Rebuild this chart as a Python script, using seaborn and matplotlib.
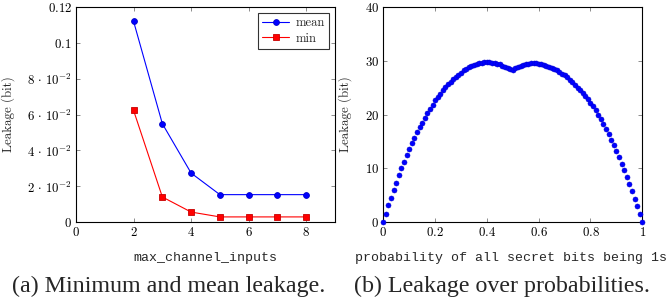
import pandas as pd
import matplotlib
matplotlib.use("Agg")
import matplotlib.pyplot as plt
import seaborn as sns

sns.set_theme(style="ticks")
plt.rcParams["mathtext.fontset"] = "cm"
plt.rcParams["font.family"] = ["cmr10", "DejaVu Serif"]
plt.rcParams["axes.formatter.use_mathtext"] = True

# (a) leakage vs max_channel_inputs
channel_inputs = [2, 3, 4, 5, 6, 7, 8]
mean_leakage = [0.1119, 0.0549, 0.0274, 0.0154, 0.0154, 0.0154, 0.0154]
min_leakage = [0.0623, 0.0141, 0.0057, 0.0030, 0.0030, 0.0030, 0.0030]

# (b) leakage over probabilities
prob = [0.00, 0.01, 0.02, 0.03, 0.04, 0.05, 0.06, 0.07, 0.08, 0.09,
        0.10, 0.11, 0.12, 0.13, 0.14, 0.15, 0.16, 0.17, 0.18, 0.19,
        0.20, 0.21, 0.22, 0.23, 0.24, 0.25, 0.26, 0.27, 0.28, 0.29,
        0.30, 0.31, 0.32, 0.33, 0.34, 0.35, 0.36, 0.37, 0.38, 0.39,
        0.40, 0.41, 0.42, 0.43, 0.44, 0.45, 0.46, 0.47, 0.48, 0.49,
        0.50, 0.51, 0.52, 0.53, 0.54, 0.55, 0.56, 0.57, 0.58, 0.59,
        0.60, 0.61, 0.62, 0.63, 0.64, 0.65, 0.66, 0.67, 0.68, 0.69,
        0.70, 0.71, 0.72, 0.73, 0.74, 0.75, 0.76, 0.77, 0.78, 0.79,
        0.80, 0.81, 0.82, 0.83, 0.84, 0.85, 0.86, 0.87, 0.88, 0.89,
        0.90, 0.91, 0.92, 0.93, 0.94, 0.95, 0.96, 0.97, 0.98, 0.99, 1.00]
leakage = [0.0, 1.6, 3.2, 4.6, 6.0, 7.3, 8.7, 10.0, 11.2, 12.4,
           13.6, 14.7, 15.7, 16.7, 17.6, 18.5, 19.4, 20.2, 21.0, 21.8,
           22.7, 23.3, 23.9, 24.5, 25.1, 25.6, 26.1, 26.6, 27.0, 27.4,
           27.8, 28.2, 28.5, 28.8, 29.0, 29.2, 29.4, 29.5, 29.6, 29.7,
           29.7, 29.7, 29.6, 29.5, 29.4, 29.3, 29.1, 28.9, 28.7, 28.5,
           28.3, 28.6, 28.8, 29.0, 29.2, 29.3, 29.4, 29.5, 29.5, 29.5,
           29.4, 29.3, 29.2, 29.1, 28.9, 28.7, 28.5, 28.2, 27.9, 27.6,
           27.3, 26.9, 26.5, 26.0, 25.5, 25.0, 24.5, 24.0, 23.4, 22.8,
           22.2, 21.5, 20.8, 20.0, 19.2, 18.3, 17.3, 16.4, 15.3, 14.3,
           13.2, 12.2, 10.9, 9.7, 8.4, 7.2, 5.8, 4.4, 3.0, 1.6, 0.0]

a_xticks = [0, 2, 4, 6, 8]
a_yticks = [0, 0.02, 0.04, 0.06, 0.08, 0.1, 0.12]
a_ylabels = ["$0$", r"$2\,\cdot\,10^{-2}$", r"$4\,\cdot\,10^{-2}$",
             r"$6\,\cdot\,10^{-2}$", r"$8\,\cdot\,10^{-2}$", "$0.1$", "$0.12$"]
b_xticks = [0, 0.2, 0.4, 0.6, 0.8, 1]
b_xlabels = ["$0$", "$0.2$", "$0.4$", "$0.6$", "$0.8$", "$1$"]
b_yticks = [0, 10, 20, 30, 40]
b_ylabels = ["$0$", "$10$", "$20$", "$30$", "$40$"]

df_a = pd.DataFrame({"x": channel_inputs, "mean": mean_leakage, "min": min_leakage})
df_b = pd.DataFrame({"p": prob, "leak": leakage})

fig = plt.figure(figsize=(6.68, 3.07), dpi=100)
ax1 = fig.add_axes([0.1138, 0.2759, 0.3877, 0.702])
ax2 = fig.add_axes([0.5738, 0.2759, 0.3877, 0.702])

sns.lineplot(data=df_a, x="x", y="mean", ax=ax1, color="blue", lw=0.8,
             marker="o", markersize=4.2, markeredgecolor="#0000c8",
             markeredgewidth=0.6, label="mean")
sns.lineplot(data=df_a, x="x", y="min", ax=ax1, color="red", lw=0.8,
             marker="s", markersize=4.0, markeredgecolor="#c80000",
             markeredgewidth=0.6, label="min")

sns.scatterplot(data=df_b, x="p", y="leak", ax=ax2, color="blue", s=13,
                edgecolor="#0000d0", linewidth=0.4, zorder=3, clip_on=False)

mono = ["Liberation Mono", "DejaVu Sans Mono"]

ax1.set_xlim(0, 9)
ax1.set_ylim(0, 0.12)
ax1.set_xticks(a_xticks)
ax1.set_xticklabels(["$%d$" % t for t in a_xticks])
ax1.set_yticks(a_yticks)
ax1.set_yticklabels(a_ylabels)
ax1.set_xlabel("max_channel_inputs", family=mono, fontsize=9.5)
ax1.set_ylabel("Leakage (bit)", fontsize=9.3)
ax1.xaxis.set_label_coords(0.5, -0.138)
ax1.yaxis.set_label_coords(-0.235, 0.5)

ax2.set_xlim(0, 1)
ax2.set_ylim(0, 40)
ax2.set_xticks(b_xticks)
ax2.set_xticklabels(b_xlabels)
ax2.set_yticks(b_yticks)
ax2.set_yticklabels(b_ylabels)
ax2.set_xlabel("probability of all secret bits being 1s", family=mono, fontsize=9.5)
ax2.set_ylabel("Leakage (bit)", fontsize=9.3)
ax2.xaxis.set_label_coords(0.495, -0.138)
ax2.yaxis.set_label_coords(-0.12, 0.5)

for ax in (ax1, ax2):
    ax.tick_params(direction="in", top=True, right=True, length=3,
                   width=0.7, color="0.55", labelsize=9.3, pad=3, labelcolor="black")
    for sp in ax.spines.values():
        sp.set_linewidth(0.8)
        sp.set_color("black")
        sp.set_visible(True)

leg = ax1.legend(loc="upper right", fontsize=9, frameon=True, fancybox=False,
                 edgecolor="black", borderpad=0.3, handlelength=2.2,
                 handletextpad=0.5, labelspacing=0.3, borderaxespad=0.5)
leg.get_frame().set_linewidth(0.8)

cap = ["Liberation Serif", "DejaVu Serif"]
fig.text(0.252, 0.068, "(a) Minimum and mean leakage.", family=cap,
         fontsize=17.3, ha="center", va="center")
fig.text(0.752, 0.068, "(b) Leakage over probabilities.", family=cap,
         fontsize=17.3, ha="center", va="center")

fig.savefig("out.png", dpi=100)
